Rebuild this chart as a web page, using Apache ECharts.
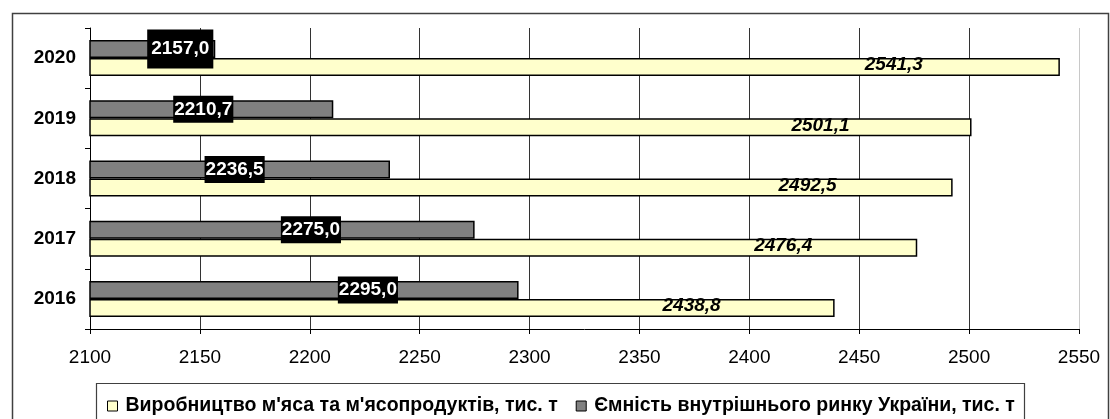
<!DOCTYPE html>
<html>
<head>
<meta charset="utf-8">
<script src="https://cdn.jsdelivr.net/npm/echarts@6/dist/echarts.min.js"></script>
<style>
  html, body { margin: 0; padding: 0; background: #fff; }
  #chart { width: 1110px; height: 419px; }
</style>
</head>
<body>
<div id="chart"></div>
<script>
const years = ['2016', '2017', '2018', '2019', '2020']
const production = [2438.8, 2476.4, 2492.5, 2501.1, 2541.3]
const marketCapacity = [2295.0, 2275.0, 2236.5, 2210.7, 2157.0]
const xTicks = { min: 2100, max: 2550, step: 50 }
const seriesNames = [
  'Виробництво м\'яса та м\'ясопродуктів, тис. т',
  'Ємність внутрішнього ринку України, тис. т'
]

// зсуви підписів (як у вихідній діаграмі, вручну розставлені)
const prodLabelShift = [-114, -105, -116, -122, -137]
const capLabelShift = [64, 29, -5, -8, 28]
const capLabelPad = [[4, 1], [4, 1], [4, 1], [4, 1], [10, 4]]

const fmt = v => v.toFixed(1).replace('.', ',')
const font = 'Liberation Sans, Arial, sans-serif'

const chart = echarts.init(document.getElementById('chart'))

const prodData = production.map((v, i) => ({
  value: v,
  label: { offset: [prodLabelShift[i], -2] }
}))
const capData = marketCapacity.map((v, i) => ({
  value: v,
  label: { offset: [capLabelShift[i], 0], padding: capLabelPad[i] }
}))

const gridColors = []
for (let t = xTicks.min; t <= xTicks.max; t += xTicks.step) {
  gridColors.push(t === xTicks.max ? '#c8c8c8' : '#333')
}

const options = {
  backgroundColor: '#fff',
  animation: false,
  grid: {
    left: 90,
    right: 31,
    top: 28,
    bottom: 90
  },
  legend: {
    data: seriesNames,
    left: 102,
    top: 391,
    icon: 'rect',
    itemWidth: 10,
    itemHeight: 10,
    itemGap: 18,
    itemStyle: { borderColor: '#000', borderWidth: 1 },
    textStyle: {
      fontFamily: font,
      fontSize: 19.5,
      fontWeight: 'bold',
      color: '#000',
      padding: [0, 0, 0, 3]
    }
  },
  xAxis: {
    type: 'value',
    min: xTicks.min,
    max: xTicks.max,
    interval: xTicks.step,
    axisLine: { show: true, lineStyle: { color: '#000', width: 1 } },
    axisTick: { show: true, length: 5, lineStyle: { color: '#000' } },
    axisLabel: {
      margin: 19,
      fontFamily: font,
      fontSize: 19,
      color: '#000',
      formatter: v => String(v)
    },
    splitLine: { show: true, lineStyle: { color: gridColors, width: 1 } }
  },
  yAxis: {
    type: 'category',
    data: years,
    axisLine: { show: true, lineStyle: { color: '#000', width: 1 } },
    axisTick: { show: true, length: 5, lineStyle: { color: '#000' } },
    axisLabel: {
      margin: 14,
      fontFamily: font,
      fontSize: 19,
      fontWeight: 'bold',
      color: '#000'
    }
  },
  series: [
    {
      name: seriesNames[1],
      type: 'bar',
      data: capData,
      barWidth: 18,
      barGap: '0%',
      itemStyle: { color: '#808080', borderColor: '#000', borderWidth: 1.5 },
      label: {
        show: true,
        position: 'inside',
        formatter: p => fmt(p.value),
        fontFamily: font,
        fontSize: 19,
        fontWeight: 'bold',
        color: '#fff',
        backgroundColor: '#000'
      }
    },
    {
      name: seriesNames[0],
      type: 'bar',
      data: prodData,
      barWidth: 18,
      barGap: '0%',
      itemStyle: { color: '#FFFFCC', borderColor: '#000', borderWidth: 1.5 },
      label: {
        show: true,
        position: 'insideRight',
        distance: 0,
        formatter: p => fmt(p.value),
        fontFamily: font,
        fontSize: 19,
        fontWeight: 'bold',
        fontStyle: 'italic',
        color: '#000'
      }
    }
  ],
  graphic: [
    {
      type: 'rect',
      silent: true,
      shape: { x: 12.5, y: 13.5, width: 1096, height: 500 },
      style: { fill: 'none', stroke: '#404040', lineWidth: 1.5 }
    },
    {
      type: 'rect',
      silent: true,
      shape: { x: 96.5, y: 383.5, width: 928, height: 100 },
      style: { fill: 'none', stroke: '#404040', lineWidth: 1.2 }
    }
  ]
}

chart.setOption(options)

window.addEventListener('resize', () => {
  chart?.resize()
})
</script>
</body>
</html>
